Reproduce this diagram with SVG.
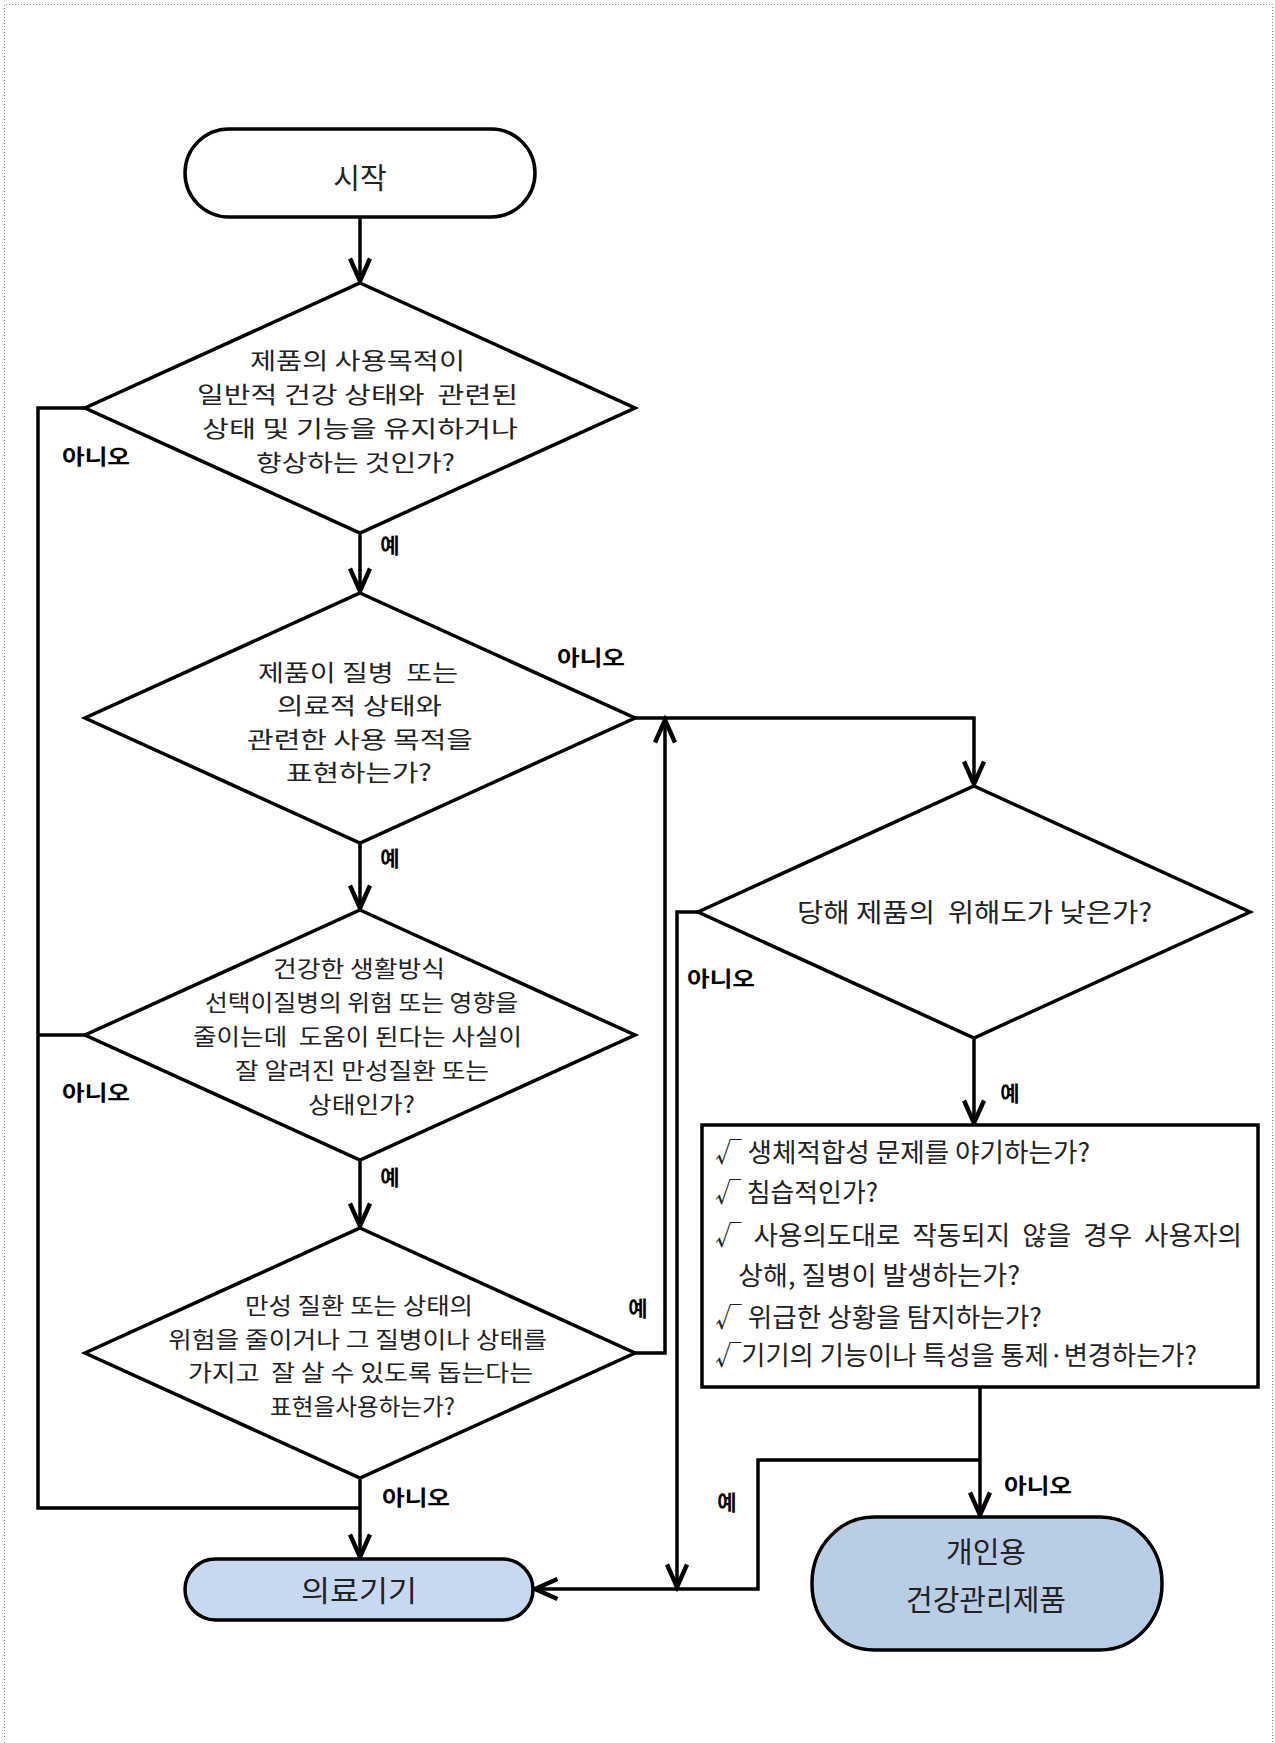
<svg xmlns="http://www.w3.org/2000/svg" width="1275" height="1743" viewBox="0 0 1275 1743">
<style>
.shape{fill:#fff;stroke:#000;stroke-width:3.5;stroke-linejoin:miter}
.term{stroke:#000;stroke-width:3.5}
.t{font-family:"Noto Sans CJK KR","Noto Sans",sans-serif;font-size:26px;fill:#222;white-space:pre}
.d{font-size:23px}
.c{text-anchor:middle}
.big{font-size:29px}
.lbl{font-family:"Noto Sans CJK KR","Noto Sans",sans-serif;font-size:21px;font-weight:bold;fill:#000;text-anchor:middle}
.conn{fill:none;stroke:#000;stroke-width:3.5;stroke-linejoin:miter}
.border{fill:none;stroke:#8a8a8a;stroke-width:1;stroke-dasharray:1 2}
</style>
<defs>
<marker id="arr" markerUnits="userSpaceOnUse" markerWidth="30" markerHeight="30" refX="0" refY="0" viewBox="-22 -12 24 24" orient="auto" overflow="visible">
<path d="M-18,-8 L0,0 L-18,8" fill="none" stroke="#000" stroke-width="3.5"/>
</marker>
</defs>
<rect width="1275" height="1743" fill="#fff"/>
<g id="border">
<path class="border" d="M4.5,1743 V4.5 H1272.5 V1743"/>
</g>
<g id="connectors">
<path class="conn" d="M360,217 V281" marker-end="url(#arr)"/>
<path class="conn" d="M360,533 V591" marker-end="url(#arr)"/>
<path class="conn" d="M360,843 V908" marker-end="url(#arr)"/>
<path class="conn" d="M360,1160 V1226" marker-end="url(#arr)"/>
<path class="conn" d="M360,1478 V1557" marker-end="url(#arr)"/>
<path class="conn" d="M85,408 H38 V1508 H360"/>
<path class="conn" d="M85,1035 H38"/>
<path class="conn" d="M635,718 H974 V784" marker-end="url(#arr)"/>
<path class="conn" d="M635,1353 H665 V720" marker-end="url(#arr)"/>
<path class="conn" d="M698,912 H677 V1587" marker-end="url(#arr)"/>
<path class="conn" d="M974,1038 V1123" marker-end="url(#arr)"/>
<path class="conn" d="M980,1387 V1515" marker-end="url(#arr)"/>
<path class="conn" d="M980,1460 H758 V1589 H535" marker-end="url(#arr)"/>
</g>
<g id="start">
<rect class="shape" x="185" y="129" width="350" height="88" rx="44" ry="44"/>
<text class="t c big" x="360" y="189">시작</text>
</g>
<g id="d1">
<polygon class="shape" points="360,283 635,408 360,533 85,408"/>
<text class="t d c" x="357.5" y="369" textLength="215" lengthAdjust="spacingAndGlyphs">제품의 사용목적이</text>
<text class="t d c" x="357.5" y="403" textLength="321" lengthAdjust="spacingAndGlyphs">일반적 건강 상태와  관련된</text>
<text class="t d c" x="360" y="437" textLength="316" lengthAdjust="spacingAndGlyphs">상태 및 기능을 유지하거나</text>
<text class="t d c" x="355.5" y="471" textLength="199" lengthAdjust="spacingAndGlyphs">향상하는 것인가?</text>
</g>
<g id="d2">
<polygon class="shape" points="360,593 635,718 360,843 85,718"/>
<text class="t d c" x="358" y="680.5" textLength="200" lengthAdjust="spacingAndGlyphs">제품이 질병  또는</text>
<text class="t d c" x="359.5" y="714" textLength="165" lengthAdjust="spacingAndGlyphs">의료적 상태와</text>
<text class="t d c" x="360" y="747.5" textLength="226" lengthAdjust="spacingAndGlyphs">관련한 사용 목적을</text>
<text class="t d c" x="359" y="781" textLength="146" lengthAdjust="spacingAndGlyphs">표현하는가?</text>
</g>
<g id="d3">
<polygon class="shape" points="360,910 635,1035 360,1160 85,1035"/>
<text class="t d c" x="359" y="976.5" textLength="172" lengthAdjust="spacingAndGlyphs">건강한 생활방식</text>
<text class="t d c" x="361.5" y="1010.5" textLength="313" lengthAdjust="spacingAndGlyphs">선택이질병의 위험 또는 영향을</text>
<text class="t d c" x="357.5" y="1044.5" textLength="329" lengthAdjust="spacingAndGlyphs">줄이는데  도움이 된다는 사실이</text>
<text class="t d c" x="362" y="1078.5" textLength="254" lengthAdjust="spacingAndGlyphs">잘 알려진 만성질환 또는</text>
<text class="t d c" x="361.5" y="1112.5" textLength="107" lengthAdjust="spacingAndGlyphs">상태인가?</text>
</g>
<g id="d4">
<polygon class="shape" points="360,1228 635,1353 360,1478 85,1353"/>
<text class="t d c" x="359" y="1314" textLength="228" lengthAdjust="spacingAndGlyphs">만성 질환 또는 상태의</text>
<text class="t d c" x="357.5" y="1347.5" textLength="379" lengthAdjust="spacingAndGlyphs">위험을 줄이거나 그 질병이나 상태를</text>
<text class="t d c" x="360.5" y="1381" textLength="345" lengthAdjust="spacingAndGlyphs">가지고  잘 살 수 있도록 돕는다는</text>
<text class="t d c" x="362.5" y="1414.5" textLength="185" lengthAdjust="spacingAndGlyphs">표현을사용하는가?</text>
</g>
<g id="d5">
<polygon class="shape" points="974,786 1250,912 974,1038 698,912"/>
<text class="t c" x="974.5" y="922" textLength="355" lengthAdjust="spacingAndGlyphs">당해 제품의  위해도가 낮은가?</text>
</g>
<g id="checklist">
<rect class="shape" x="702" y="1125" width="556" height="262"/>
<text class="t" x="715" y="1161.5" textLength="375" lengthAdjust="spacingAndGlyphs">√ 생체적합성 문제를 야기하는가?</text>
<text class="t" x="715" y="1201.5" textLength="163" lengthAdjust="spacingAndGlyphs">√ 침습적인가?</text>
<text class="t" x="715" y="1244.5" textLength="527" lengthAdjust="spacingAndGlyphs">√  사용의도대로  작동되지  않을  경우  사용자의</text>
<text class="t" x="738" y="1284.5" textLength="282" lengthAdjust="spacingAndGlyphs">상해, 질병이 발생하는가?</text>
<text class="t" x="715" y="1326.5" textLength="327" lengthAdjust="spacingAndGlyphs">√ 위급한 상황을 탐지하는가?</text>
<text class="t" x="715" y="1364.5" textLength="482" lengthAdjust="spacingAndGlyphs">√기기의 기능이나 특성을 통제·변경하는가?</text>
</g>
<g id="medical-device">
<rect class="term" x="185" y="1559" width="348" height="61" rx="30.5" ry="30.5" fill="#c6d9f1"/>
<text class="t c big" x="359" y="1601.5" textLength="116" lengthAdjust="spacingAndGlyphs">의료기기</text>
</g>
<g id="personal-health">
<rect class="term" x="812" y="1517" width="350" height="133" rx="62" ry="66" fill="#b9cde5"/>
<text class="t c big" x="986" y="1562.5">개인용</text>
<text class="t c big" x="986" y="1610.5">건강관리제품</text>
</g>
<g id="labels">
<text class="lbl" x="96" y="463.5" textLength="68" lengthAdjust="spacingAndGlyphs">아니오</text>
<text class="lbl" x="591" y="664.5" textLength="68" lengthAdjust="spacingAndGlyphs">아니오</text>
<text class="lbl" x="96" y="1099.5" textLength="68" lengthAdjust="spacingAndGlyphs">아니오</text>
<text class="lbl" x="721" y="985.5" textLength="68" lengthAdjust="spacingAndGlyphs">아니오</text>
<text class="lbl" x="416" y="1504.5" textLength="68" lengthAdjust="spacingAndGlyphs">아니오</text>
<text class="lbl" x="1038" y="1492.5" textLength="68" lengthAdjust="spacingAndGlyphs">아니오</text>
<text class="lbl" x="390" y="552.5">예</text>
<text class="lbl" x="390" y="865.5">예</text>
<text class="lbl" x="390" y="1184.5">예</text>
<text class="lbl" x="638" y="1315.5">예</text>
<text class="lbl" x="1010" y="1100.5">예</text>
<text class="lbl" x="727" y="1509.5">예</text>
</g>
</svg>
